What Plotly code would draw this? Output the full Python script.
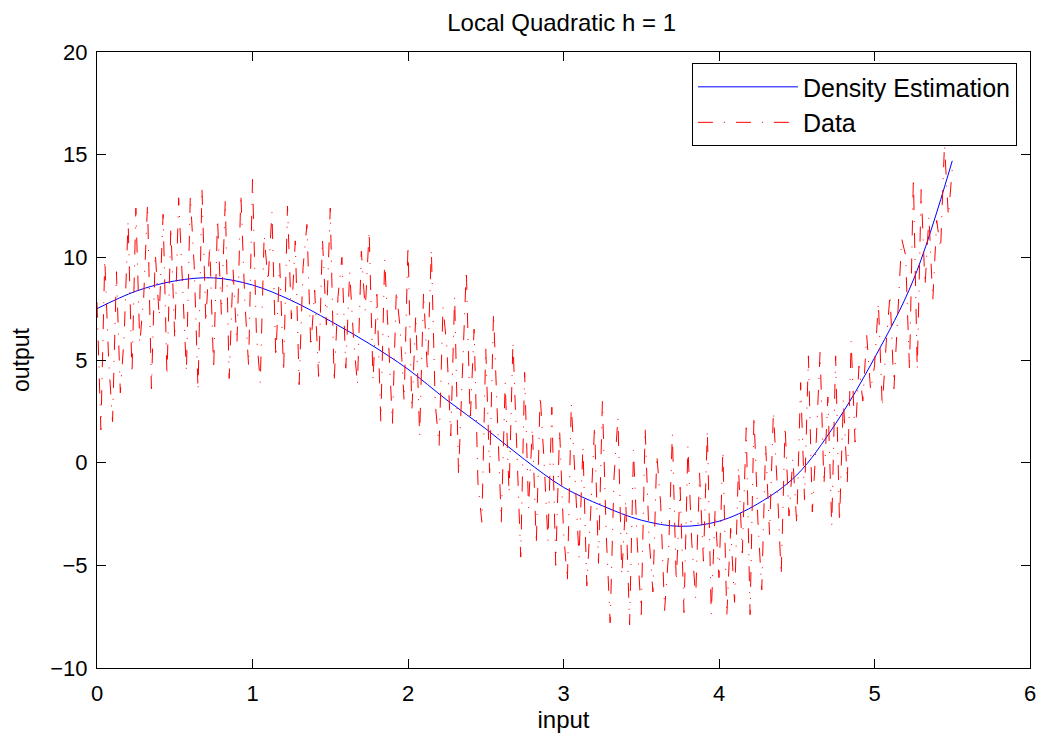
import plotly.graph_objects as go

# smoothed curve (local quadratic, h = 1), read at 0.25 steps
curve_x = [0, 0.25, 0.5, 0.75, 1.0, 1.25, 1.5, 1.75, 2.0, 2.25, 2.5, 2.75,
           3.0, 3.25, 3.5, 3.75, 4.0, 4.25, 4.5, 4.75, 5.0, 5.25, 5.5]
curve_y = [7.5, 8.35, 8.85, 9.0, 8.65, 7.9, 6.9, 5.8, 4.55, 3.05, 1.65, 0.15,
           -1.2, -2.1, -2.8, -3.1, -2.85, -2.0, -0.6, 1.9, 5.1, 8.9, 14.7]

# noisy data, one value every 0.025 from 0 to 5.5
data_y = [
    7.8, 1.6, 9.9, 5.0, 2.0, 9.3, 3.4, 6.2, 11.8, 4.3,
    12.4, 5.8, 8.0, 12.6, 3.6, 10.2, 7.1, 12.1, 4.2, 11.5,
    6.0, 12.9, 8.7, 4.4, 13.0, 9.6, 3.5, 13.4, 6.8, 10.6,
    4.5, 11.9, 7.2, 12.8, 4.1, 9.4, 5.8, 13.1, 8.0, 4.7,
    13.8, 6.3, 3.9, 11.1, 8.8, 12.2, 5.1, 9.7, 4.4, 12.5,
    7.0, 10.8, 3.8, 9.5, 11.6, 5.6, 8.4, 4.2, 10.9, 6.7,
    12.4, 3.9, 8.1, 10.0, 4.6, 9.3, 6.0, 3.8, 10.3, 7.4,
    11.3, 4.0, 8.2, 2.0, 9.9, 5.6, 1.9, 8.4, 6.5, 3.0,
    10.6, 2.5, 7.2, 1.3, 8.3, 4.4, 10.4, 2.9, 0.8, 7.6,
    5.6, 1.3, 8.1, -0.6, 4.3, 9.4, 2.0, 6.5, -1.0, -2.9,
    5.6, -0.5, 7.3, 2.3, -2.9, 3.9, -1.5, 5.9, 0.4, -4.6,
    4.4, -2.2, 1.7, -4.0, 3.3, 0.1, -3.8, 2.7, -5.0, 1.6,
    -3.3, -5.8, 2.9, -1.0, -4.6, 0.8, -6.0, -2.4, 1.8, -4.9,
    3.0, -3.5, -7.8, -0.7, 2.2, -5.5, -1.8, -7.9, 0.6, -4.0,
    -7.4, 1.7, -3.6, -6.3, 0.4, -2.0, -7.2, -4.5, 1.4, -5.8,
    -1.2, -7.3, 0.8, -3.9, -6.6, -0.5, -4.8, 1.6, -7.4, -2.3,
    -5.6, 0.6, -7.5, -3.2, -6.8, -0.2, -4.4, 1.7, -7.4, 2.3,
    -2.8, -6.2, 0.9, -3.5, 2.5, -1.2, -5.5, 1.8, -2.6, 0.2,
    -3.0, 3.9, -1.8, 5.2, -2.4, 1.0, 5.4, -1.1, 3.2, -3.1,
    5.2, -2.9, 3.1, -1.0, 5.9, 1.0, 4.7, 3.0, 6.2, 3.5,
    4.7, 7.8, 2.7, 5.8, 8.2, 3.6, 7.0, 10.9, 10.1, 4.5,
    13.9, 4.5, 13.3, 8.6, 12.0, 7.9, 11.8, 10.4, 15.5, 12.0,
    14.3,
]
data_x = [round(i * 0.025, 3) for i in range(len(data_y))]

font = "Liberation Sans, Arial, sans-serif"

fig = go.Figure()
fig.add_trace(go.Scatter(x=curve_x, y=curve_y, mode="lines", name="Density Estimation",
                         line=dict(color="#0000ff", width=1, shape="spline")))
fig.add_trace(go.Scatter(x=data_x, y=data_y, mode="lines", name="Data",
                         line=dict(color="#ff0000", width=1, dash="15px,11px,1px,11px")))

axis = dict(showgrid=False, zeroline=False, showline=True, linecolor="black", linewidth=1,
            mirror="ticks", ticks="inside", ticklen=9, tickcolor="black", automargin=False,
            tickfont=dict(size=22, color="black"))

fig.update_layout(
    width=1040, height=738,
    margin=dict(l=97, r=10, t=52, b=70),
    paper_bgcolor="white", plot_bgcolor="white",
    font=dict(family=font, size=24, color="black"),
    title=dict(text="Local Quadratic h = 1", x=0.54, xanchor="center", y=0.97, yanchor="middle",
               font=dict(size=24)),
    xaxis=dict(axis, range=[0, 6], dtick=1, ticklabelstandoff=6,
               title=dict(text="input", standoff=5, font=dict(size=24))),
    yaxis=dict(axis, range=[-10, 20], dtick=5, ticklabelstandoff=4,
               title=dict(text="output", standoff=14, font=dict(size=23))),
    legend=dict(x=0.986, y=0.982, xanchor="right", yanchor="top", bordercolor="black",
                borderwidth=1, bgcolor="white", itemwidth=100, font=dict(size=25),
                tracegroupgap=0),
    showlegend=True,
)

# page body has an 8px default margin; drop it so the figure sits at the window corner
fig.write_html("out.html", config={"displayModeBar": False},
               post_script="document.body.style.margin='0';")
